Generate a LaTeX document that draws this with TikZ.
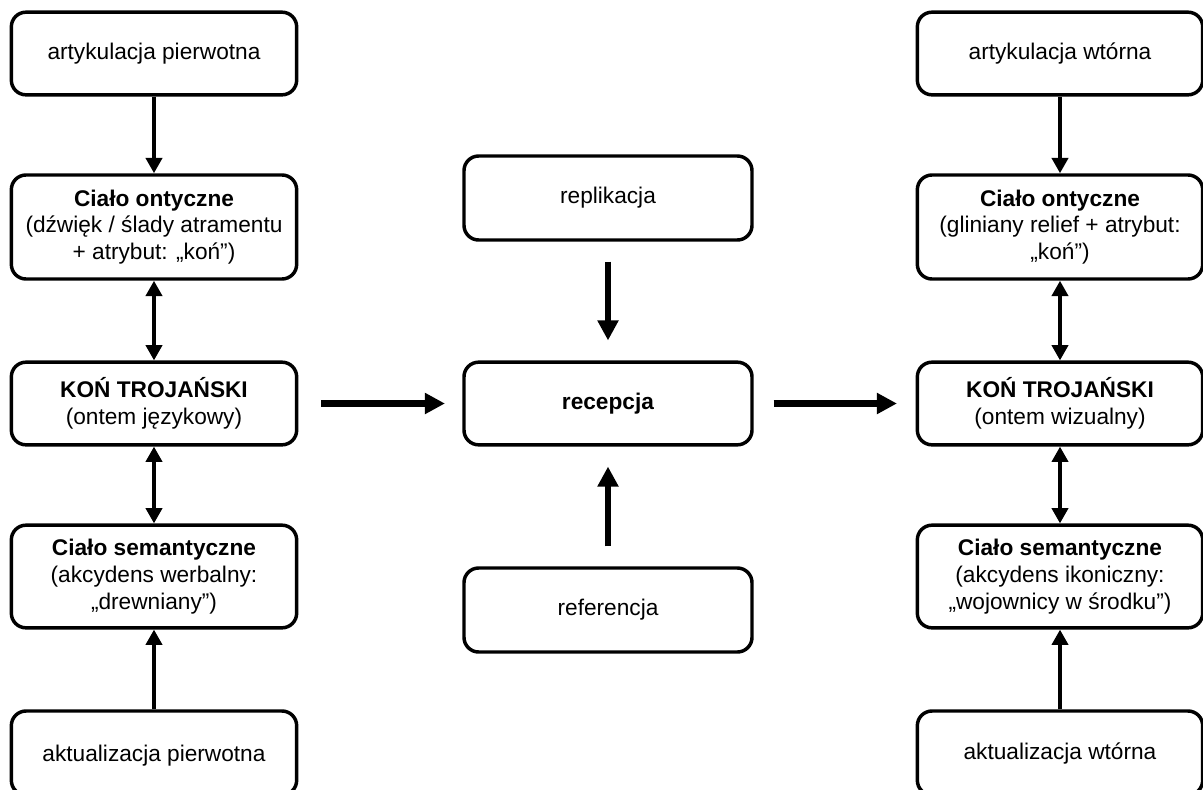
\documentclass[tikz,border=0pt]{standalone}
\usepackage{fontspec}
\setmainfont{Liberation Sans}
\usetikzlibrary{arrows.meta}
\begin{document}
\begin{tikzpicture}[x=0.75pt,y=-0.75pt,
  box/.style={draw, line width=2.6pt, rounded corners=11pt, minimum width=214pt,
    align=center, inner sep=0pt, font=\fontsize{17}{20}\selectfont},
  sarr/.style={line width=3.7pt, -{Triangle[length=11.5pt,width=12pt]}},
  sdarr/.style={line width=3.7pt, {Triangle[length=11.5pt,width=12pt]}-{Triangle[length=11.5pt,width=12pt]}},
  barr/.style={line width=4.8pt, -{Triangle[length=15pt,width=15pt]}}]
\useasboundingbox (0,0) rectangle (1203,789);
\clip (0,0) rectangle (1203,789);
% left column
\node[box, minimum height=62pt] (la) at (154,53.5) {artykulacja pierwotna};
\node[box, minimum height=78pt] (lb) at (154,227) {\textbf{Ciało ontyczne}\\(dźwięk / ślady atramentu\\+ atrybut: „koń”)};
\node[box, minimum height=62pt] (lc) at (154,403.5) {\textbf{KOŃ TROJAŃSKI}\\(ontem językowy)};
\node[box, minimum height=77pt] (ld) at (154,576.5) {\textbf{Ciało semantyczne}\\(akcydens werbalny:\\„drewniany”)};
\node[box, minimum height=63pt, text depth=0pt] (le) at (154,753) {\raisebox{0pt}{aktualizacja pierwotna}};
% middle column
\node[box, minimum height=63pt, minimum width=216pt] (mr) at (608,198) {replikacja};
\node[box, minimum height=62pt, minimum width=216pt] (mc) at (608,403.5) {\textbf{recepcja}};
\node[box, minimum height=63pt, minimum width=216pt] (mf) at (608,610) {referencja};
% right column
\node[box, minimum height=62pt] (ra) at (1060,53.5) {artykulacja wtórna};
\node[box, minimum height=78pt] (rb) at (1060,227) {\textbf{Ciało ontyczne}\\(gliniany relief + atrybut:\\„koń”)};
\node[box, minimum height=62pt] (rc) at (1060,403.5) {\textbf{KOŃ TROJAŃSKI}\\(ontem wizualny)};
\node[box, minimum height=77pt] (rd) at (1060,576.5) {\textbf{Ciało semantyczne}\\(akcydens ikoniczny:\\„wojownicy w środku”)};
\node[box, minimum height=63pt] (re) at (1060,753) {aktualizacja wtórna};
% left connectors
\draw[sarr] (la.south) -- (lb.north);
\draw[sdarr] (lb.south) -- (lc.north);
\draw[sdarr] (lc.south) -- (ld.north);
\draw[sarr] (le.north) -- (ld.south);
% right connectors
\draw[sarr] (ra.south) -- (rb.north);
\draw[sdarr] (rb.south) -- (rc.north);
\draw[sdarr] (rc.south) -- (rd.north);
\draw[sarr] (re.north) -- (rd.south);
% middle connectors
\draw[barr, shorten <=15pt, shorten >=15pt] (mr.south) -- (mc.north);
\draw[barr, shorten <=15pt, shorten >=15pt] (mf.north) -- (mc.south);
\draw[barr, shorten <=17pt, shorten >=13pt] (lc.east) -- (mc.west);
\draw[barr, shorten <=15pt, shorten >=14pt] (mc.east) -- (rc.west);
\end{tikzpicture}
\end{document}
